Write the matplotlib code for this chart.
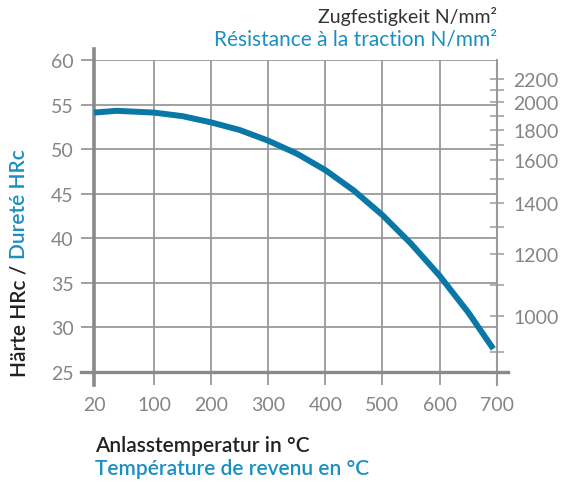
import matplotlib
matplotlib.use("Agg")
import matplotlib.pyplot as plt
import numpy as np

plt.rcParams['font.family'] = ['Lato', 'DejaVu Sans']

# tempering temperature (°C) vs hardness (HRc)
temps = [20, 50, 100, 150, 200, 250, 300, 350, 400, 450, 500, 550, 600, 650, 694]
hardness = [54.1, 54.3, 54.1, 53.7, 53.0, 52.15, 50.95, 49.5, 47.65, 45.35, 42.6, 39.4, 35.8, 31.7, 27.6]

x_ticks = [20, 100, 200, 300, 400, 500, 600, 700]
x_pos = [0, 1.05, 2.05, 3.05, 4.05, 5.05, 6.05, 7.05]  # 20 -> 100 gap slightly wider
y_ticks = [25, 30, 35, 40, 45, 50, 55, 60]

# tensile strength N/mm² and matching hardness HRc (right axis)
tensile = [900, 1000, 1100, 1200, 1300, 1400, 1500, 1600, 1700, 1800, 1900, 2000, 2100, 2200]
tensile_hrc = [27.2, 31.3, 34.8, 38.2, 41.3, 44.0, 46.6, 48.8, 50.5, 52.1, 53.7, 55.3, 56.6, 57.9]
tensile_labels = [str(t) if t % 200 == 0 else "" for t in tensile]

BLUE_LINE = "#0a78a6"
BLUE_TXT = "#1a8fc2"
GRID = "#9a9a9a"
TICKTXT = "#858585"

fig = plt.figure(figsize=(5.65, 4.85), dpi=100)
ax = fig.add_axes([94 / 565, 1 - 373 / 485, (496.7 - 94) / 565, (373 - 61) / 485])

fwd = lambda v: np.interp(v, x_ticks, x_pos)
inv = lambda p: np.interp(p, x_pos, x_ticks)
ax.set_xscale("function", functions=(fwd, inv))
ax.set_xlim(20, 700)
ax.set_ylim(25, 60)

for s in ax.spines.values():
    s.set_visible(False)

ax.set_xticks(x_ticks)
ax.set_yticks(y_ticks)
ax.grid(True, color=GRID, linewidth=1.3)
ax.tick_params(axis="x", direction="out", length=9.5, width=1.3, color=GRID,
               labelsize=14, labelcolor=TICKTXT, pad=8)
ax.tick_params(axis="y", direction="out", length=9.5, width=1.3, color=GRID,
               labelsize=14, labelcolor=TICKTXT, pad=5)

# axis lines
h = 312.0
w = 402.7
ax.axvline(20, ymin=-13 / h, ymax=1 + 11 / h, color="#8a8a8a", linewidth=2.6, clip_on=False, zorder=3)
ax.axvline(700, ymin=-13 / h, ymax=1, color=GRID, linewidth=1.5, clip_on=False, zorder=3)
ax.axhline(25, xmin=-13 / w, xmax=1 + 11 / w, color="#8a8a8a", linewidth=2.4, clip_on=False, zorder=3)

ax.plot(temps, hardness, color=BLUE_LINE, linewidth=4.3, solid_capstyle="butt",
        solid_joinstyle="round", zorder=4, clip_on=False)

# right axis: tensile strength
ax2 = ax.twinx()
ax2.set_ylim(ax.get_ylim())
for s in ax2.spines.values():
    s.set_visible(False)
ax2.set_yticks(tensile_hrc)
ax2.set_yticklabels(tensile_labels)
ax2.tick_params(axis="y", direction="inout", length=10, width=1.1, color=GRID,
                labelsize=14, labelcolor=TICKTXT, pad=7)

# titles
fig.text(497 / 565, 1 - 17 / 485, "Zugfestigkeit N/mm²", ha="right", va="center",
         fontsize=14, color="#333333")
fig.text(497 / 565, 1 - 40 / 485, "Résistance à la traction N/mm²", ha="right", va="center",
         fontsize=15, color=BLUE_TXT)

fig.text(95 / 565, 1 - 446 / 485, "Anlasstemperatur in °C", ha="left", va="center",
         fontsize=15, fontweight="semibold", color="#222222")
fig.text(95 / 565, 1 - 469 / 485, "Température de revenu en °C", ha="left", va="center",
         fontsize=15, fontweight="semibold", color=BLUE_TXT)

# vertical label in two colours
fig.canvas.draw()
renderer = fig.canvas.get_renderer()
t1 = fig.text(19 / 565, 1 - 377 / 485, "Härte HRc / ", rotation=90, ha="left", va="center",
              fontsize=15, fontweight="semibold", color="#222222", rotation_mode="anchor")
bb = t1.get_window_extent(renderer)
fig.text(19 / 565, bb.y1 / fig.bbox.height, "Dureté HRc", rotation=90, ha="left", va="center",
         fontsize=15, fontweight="semibold", color=BLUE_TXT, rotation_mode="anchor")

fig.savefig("out.png", dpi=100)
